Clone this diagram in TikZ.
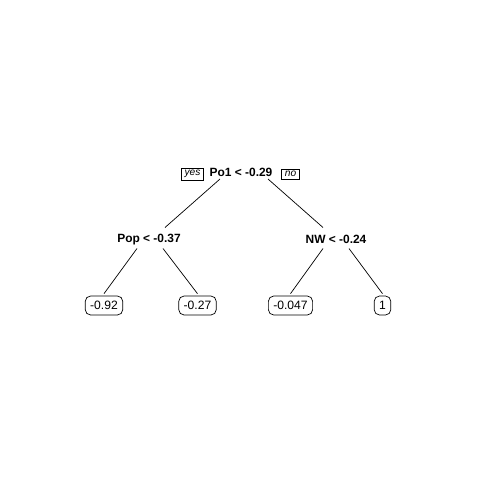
\documentclass[tikz,border=0pt]{standalone}
\usepackage{fontspec}
\setmainfont{Liberation Sans}
\tikzset{
 split/.style={inner sep=0pt,font=\fontsize{6.8}{7}\selectfont\bfseries},
 tag/.style={draw,inner xsep=1.8pt,inner ysep=1.2pt,font=\fontsize{5.8}{6}\selectfont\itshape},
 leaf/.style={draw,rounded corners=3pt,inner xsep=2.8pt,inner ysep=0pt,minimum height=10.8pt,font=\fontsize{6.9}{7}\selectfont},
 edge/.style={thin}
}
\begin{document}
\begin{tikzpicture}[x=0.02cm,y=-0.02cm]
 \useasboundingbox (0,0) rectangle (480,480);
 \node[split] (root) at (241,172) {Po1 < -0.29};
 \node[tag] (yes) at (192.5,174) {yes};
 \node[tag] (no) at (290.5,174) {no};
 \node[split] (pop) at (149,239.5) {Pop < -0.37};
 \node[split] (nw) at (336,239.5) {NW < -0.24};
 \node[leaf] (l1) at (104,305.5) {-0.92};
 \node[leaf] (l2) at (197.5,305.5) {-0.27};
 \node[leaf] (l3) at (290.5,305.5) {-0.047};
 \node[leaf] (l4) at (382.5,305.5) {1};
 \draw[edge] ([shift={(-21,7)}]root.center) -- ([shift={(16,-12)}]pop.center);
 \draw[edge] ([shift={(27,7)}]root.center) -- ([shift={(-13,-12)}]nw.center);
 \draw[edge] ([shift={(-12,9)}]pop.center) -- ([shift={(0,-2)}]l1.north);
 \draw[edge] ([shift={(14,9)}]pop.center) -- ([shift={(0,-2)}]l2.north);
 \draw[edge] ([shift={(-13,9)}]nw.center) -- ([shift={(0,-2)}]l3.north);
 \draw[edge] ([shift={(13,9)}]nw.center) -- ([shift={(0,-2)}]l4.north);
\end{tikzpicture}
\end{document}
